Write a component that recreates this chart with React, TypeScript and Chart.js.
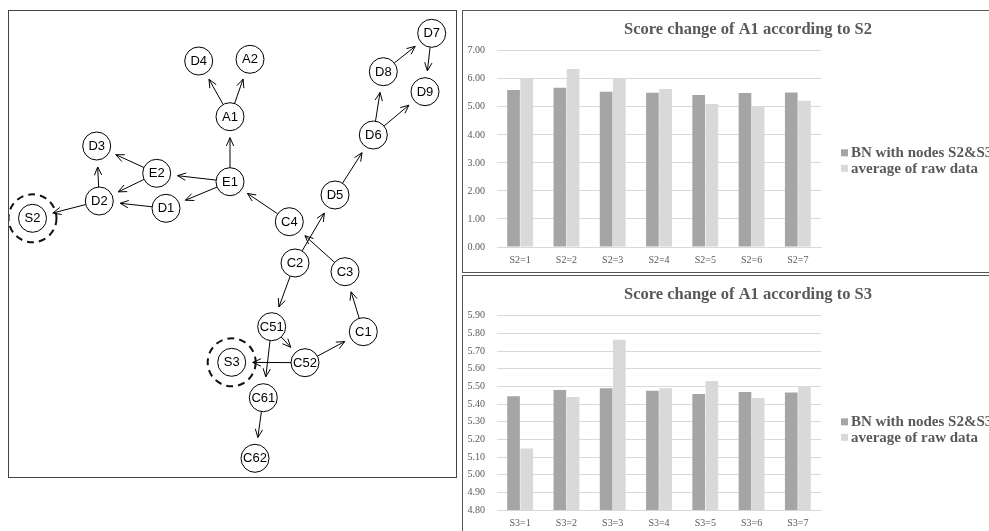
import React, { useEffect, useRef } from "react";
import { Chart, registerables } from "chart.js";

Chart.register(...registerables);

// ---------- network data ----------
const nodeNames = ["D4", "A2", "A1", "D3", "E2", "E1", "D2", "D1", "S2", "C4", "D5", "D6", "D8", "D7", "D9", "C2", "C3", "C51", "C1", "S3", "C52", "C61", "C62"];
const nodeX = [190.7, 242, 222, 88.7, 148.7, 222, 91.3, 158, 24.5, 281.3, 327, 365.3, 375.3, 423.7, 417, 287, 337, 263.7, 355.3, 223.7, 297, 255.3, 247];
const nodeY = [51, 49.3, 106.7, 136, 163.3, 171.7, 191, 198.3, 208.3, 211.7, 185, 125, 61.7, 23.3, 81.7, 253, 261.7, 316.7, 321.7, 352.3, 352.7, 387.7, 448.3];
const edgeFrom = ["A1", "A1", "E1", "E1", "E1", "E2", "E2", "D2", "D2", "D1", "C4", "C2", "C3", "D5", "D6", "D6", "D8", "D7", "C2", "C51", "C51", "C52", "C52", "C1", "C61"];
const edgeTo = ["D4", "A2", "A1", "E2", "D1", "D3", "D2", "D3", "S2", "D2", "E1", "D5", "C4", "D6", "D8", "D9", "D7", "D9", "C51", "C52", "C61", "S3", "C1", "C3", "C62"];
const ringedNodes = ["S2", "S3"];

// ---------- bar chart data ----------
const seriesNames = ["BN with nodes S2&S3", "average of raw data"];
const s2Categories = ["S2=1", "S2=2", "S2=3", "S2=4", "S2=5", "S2=6", "S2=7"];
const s2BN = [5.6, 5.68, 5.54, 5.5, 5.42, 5.49, 5.51];
const s2Raw = [6.02, 6.35, 6.02, 5.64, 5.1, 5.02, 5.22];
const s3Categories = ["S3=1", "S3=2", "S3=3", "S3=4", "S3=5", "S3=6", "S3=7"];
const s3BN = [5.445, 5.48, 5.49, 5.475, 5.457, 5.468, 5.465];
const s3Raw = [5.148, 5.44, 5.765, 5.49, 5.53, 5.435, 5.5];
const s2Title = "Score change of A1 according to S2";
const s3Title = "Score change of A1 according to S3";

const SERIF = "'Liberation Serif', 'Times New Roman', serif";
const SANS = "'Liberation Sans', Arial, sans-serif";
const TEXT_GREY = "#595959";
const DARK_BAR = "#a5a5a5";
const LIGHT_BAR = "#d9d9d9";

const networkPlugin = {
  id: "network",
  beforeDatasetsDraw(chart: any) {
    const { ctx, scales } = chart;
    const px = (name: string) => {
      const i = nodeNames.indexOf(name);
      return { x: scales.x.getPixelForValue(nodeX[i]), y: scales.y.getPixelForValue(nodeY[i]) };
    };
    ctx.save();
    ctx.strokeStyle = "#000";
    ctx.lineWidth = 1;
    const r = 14;
    const tip = 21;
    const head = 9;
    const ang = 0.42;
    for (let k = 0; k < edgeFrom.length; k++) {
      const a = px(edgeFrom[k]);
      const b = px(edgeTo[k]);
      const dx = b.x - a.x;
      const dy = b.y - a.y;
      const len = Math.hypot(dx, dy);
      const ux = dx / len;
      const uy = dy / len;
      const sx = a.x + ux * r;
      const sy = a.y + uy * r;
      const ex = b.x - ux * tip;
      const ey = b.y - uy * tip;
      ctx.beginPath();
      ctx.moveTo(sx, sy);
      ctx.lineTo(ex, ey);
      ctx.stroke();
      const th = Math.atan2(uy, ux);
      ctx.beginPath();
      ctx.moveTo(ex - head * Math.cos(th - ang), ey - head * Math.sin(th - ang));
      ctx.lineTo(ex, ey);
      ctx.lineTo(ex - head * Math.cos(th + ang), ey - head * Math.sin(th + ang));
      ctx.stroke();
    }
    ctx.lineWidth = 2;
    ctx.setLineDash([7, 5]);
    ctx.strokeStyle = "#111";
    ringedNodes.forEach((n) => {
      const p = px(n);
      ctx.beginPath();
      ctx.arc(p.x, p.y, 24, 0, Math.PI * 2);
      ctx.stroke();
    });
    ctx.restore();
  },
  afterDatasetsDraw(chart: any) {
    const { ctx, scales } = chart;
    ctx.save();
    ctx.fillStyle = "#000";
    ctx.font = `13px ${SANS}`;
    ctx.textAlign = "center";
    ctx.textBaseline = "middle";
    nodeNames.forEach((n, i) => {
      ctx.fillText(n, scales.x.getPixelForValue(nodeX[i]), scales.y.getPixelForValue(nodeY[i]) + 0.5);
    });
    ctx.restore();
  },
};

const barLegendPlugin = {
  id: "barLegend",
  afterDraw(chart: any, _args: any, opts: any) {
    const { ctx, chartArea } = chart;
    ctx.save();
    ctx.font = `bold ${opts.fontSize}px ${SERIF}`;
    ctx.textBaseline = "middle";
    ctx.textAlign = "left";
    chart.data.datasets.forEach((ds: any, i: number) => {
      const y = chartArea.top + opts.top + i * opts.step;
      const x = chartArea.right + opts.left;
      ctx.fillStyle = ds.backgroundColor;
      ctx.fillRect(x, y - opts.box / 2, opts.box, opts.box);
      ctx.fillStyle = opts.color;
      ctx.fillText(ds.label, x + opts.box + opts.gap, y + 0.5);
    });
    ctx.restore();
  },
};

function barConfig(title: string, cats: string[], bn: number[], raw: number[], yMin: number, yMax: number, step: number, legendTop: number): any {
  return {
    type: "bar",
    data: {
      labels: cats,
      datasets: [
        { label: seriesNames[0], data: bn, backgroundColor: DARK_BAR, categoryPercentage: 0.57, barPercentage: 0.96 },
        { label: seriesNames[1], data: raw, backgroundColor: LIGHT_BAR, categoryPercentage: 0.57, barPercentage: 0.96 },
      ],
    },
    options: {
      animation: false,
      responsive: false,
      maintainAspectRatio: false,
      events: [],
      layout: { padding: 0 },
      plugins: {
        legend: { display: false },
        tooltip: { enabled: false },
        title: {
          display: true,
          text: title,
          color: TEXT_GREY,
          font: { family: SERIF, size: 16.5, weight: "bold" },
          padding: { top: 9, bottom: 11 },
        },
        barLegend: { left: 20, top: legendTop, step: 15.5, box: 7, gap: 3, fontSize: 15, color: TEXT_GREY },
      },
      scales: {
        x: {
          grid: { display: false, drawTicks: false },
          border: { display: true, color: "#d9d9d9" },
          ticks: { color: TEXT_GREY, font: { family: SERIF, size: 10 }, padding: 7.5, maxRotation: 0 },
        },
        y: {
          min: yMin,
          max: yMax,
          ticks: {
            stepSize: step,
            color: TEXT_GREY,
            font: { family: SERIF, size: 10 },
            padding: 12,
            callback: (v: any) => Number(v).toFixed(2),
          },
          grid: { color: "#d9d9d9", drawTicks: false },
          border: { display: false },
          afterFit: (s: any) => {
            s.width = 34;
          },
        },
        y2: {
          type: "linear",
          position: "right",
          display: true,
          ticks: { display: false },
          grid: { display: false, drawTicks: false },
          border: { display: false },
          afterFit: (s: any) => {
            s.width = 212;
          },
        },
      },
    },
    plugins: [barLegendPlugin],
  };
}

function useChart(ref: React.RefObject<HTMLCanvasElement | null>, make: () => any) {
  useEffect(() => {
    if (!ref.current) return;
    const c = new Chart(ref.current, make());
    return () => c.destroy();
  }, []);
}

export default function App() {
  const netRef = useRef<HTMLCanvasElement>(null);
  const topRef = useRef<HTMLCanvasElement>(null);
  const botRef = useRef<HTMLCanvasElement>(null);

  useChart(netRef, () => ({
    type: "scatter",
    data: {
      datasets: [
        {
          label: "nodes",
          data: nodeNames.map((_, i) => ({ x: nodeX[i], y: nodeY[i] })),
          pointRadius: 14,
          pointHoverRadius: 14,
          pointBackgroundColor: "#fff",
          pointBorderColor: "#000",
          pointBorderWidth: 1,
        },
      ],
    },
    options: {
      animation: false,
      responsive: false,
      maintainAspectRatio: false,
      events: [],
      layout: { padding: 0, autoPadding: false },
      plugins: { legend: { display: false }, tooltip: { enabled: false } },
      scales: {
        x: { type: "linear", min: 1, max: 448, display: false },
        y: { type: "linear", min: 1, max: 467, reverse: true, display: false },
      },
    },
    plugins: [networkPlugin],
  }));

  useChart(topRef, () => barConfig(s2Title, s2Categories, s2BN, s2Raw, 0, 7, 1, 102));
  useChart(botRef, () => barConfig(s3Title, s3Categories, s3BN, s3Raw, 4.8, 5.9, 0.1, 106));

  return (
    <div style={{ position: "fixed", left: 0, top: 0, width: 989, height: 531, overflow: "hidden", background: "#fff" }}>
      <div style={{ position: "absolute", left: 8, top: 10, width: 447, height: 466, border: "1px solid #444" }}>
        <canvas ref={netRef} width={447} height={466} style={{ display: "block", width: 447, height: 466 }} />
      </div>
      <div style={{ position: "absolute", left: 462, top: 10, width: 578, height: 261, border: "1px solid #555" }}>
        <canvas ref={topRef} width={570} height={263} style={{ display: "block", width: 570, height: 263 }} />
      </div>
      <div style={{ position: "absolute", left: 462, top: 275, width: 578, height: 270, border: "1px solid #555" }}>
        <canvas ref={botRef} width={570} height={261} style={{ display: "block", width: 570, height: 261 }} />
      </div>
    </div>
  );
}
